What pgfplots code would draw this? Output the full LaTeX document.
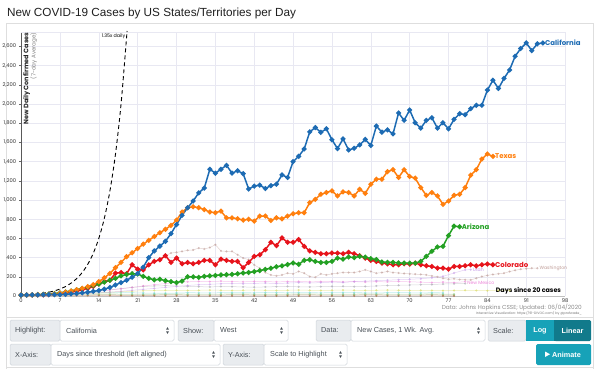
\documentclass[border=0pt]{standalone}
\usepackage{pgfplots}
\pgfplotsset{compat=1.18}
\usepackage{fontspec}
\setmainfont{Liberation Sans}
\newfontfamily\pop{Poppins}
\definecolor{cacol}{RGB}{29,107,179}
\definecolor{txcol}{RGB}{255,127,14}
\definecolor{azcol}{RGB}{35,160,35}
\definecolor{cocol}{RGB}{230,19,27}
\definecolor{wacol}{RGB}{190,155,150}
\definecolor{utcol}{RGB}{195,150,230}
\definecolor{nmcol}{RGB}{235,130,215}
\definecolor{nvcol}{RGB}{165,165,175}
\definecolor{orcol}{RGB}{215,215,90}
\definecolor{idcol}{RGB}{110,215,215}
\definecolor{mtcol}{RGB}{140,210,140}
\definecolor{wycol}{RGB}{150,140,70}
\definecolor{akcol}{RGB}{170,90,60}
\definecolor{gridcol}{RGB}{232,232,242}
\definecolor{framecol}{RGB}{222,222,222}
\definecolor{uigray}{RGB}{233,236,239}
\definecolor{uiborder}{RGB}{206,212,218}
\definecolor{uitext}{RGB}{73,80,87}
\definecolor{teal1}{RGB}{23,162,184}
\definecolor{teal2}{RGB}{17,122,139}
\newcommand{\uifont}{\fontsize{7.3}{8}\selectfont}
\newcommand{\lbox}[5]{% x1 x2 y1 y2 text
  \filldraw[fill=uigray, draw=uiborder, line width=0.5bp, rounded corners=1.5bp] (#1,#3) rectangle (#2,#4);
  \node[anchor=west, inner sep=0, text=uitext, font=\uifont] at ({#1+5},{(#3+#4)/2}) {#5};}
\newcommand{\dbox}[5]{%
  \filldraw[fill=white, draw=uiborder, line width=0.5bp, rounded corners=1.5bp] (#1,#3) rectangle (#2,#4);
  \node[anchor=west, inner sep=0, text=uitext, font=\uifont] at ({#1+6},{(#3+#4)/2}) {#5};
  \fill[uitext] ({#2-8},{(#3+#4)/2+0.8}) -- ({#2-5},{(#3+#4)/2+0.8}) -- ({#2-6.5},{(#3+#4)/2+3.3}) -- cycle;
  \fill[uitext] ({#2-8},{(#3+#4)/2-0.8}) -- ({#2-5},{(#3+#4)/2-0.8}) -- ({#2-6.5},{(#3+#4)/2-3.3}) -- cycle;}
\begin{document}
\begin{tikzpicture}[x=1bp,y=1bp]
\useasboundingbox (0,0) rectangle (600,369);
\begin{scope}
\clip (0,0) rectangle (594,369);
% title
\node[anchor=base west, inner sep=0, font=\fontsize{11.8}{13}\selectfont, text=black!88] at (7,352.5) {New COVID-19 Cases by US States/Territories per Day};
% frame
\draw[framecol, line width=0.8bp] (6,0) -- (6,346) -- (593,346) -- (593,0);
\draw[framecol, line width=0.8bp] (6,52) -- (593,52);
\draw[framecol, line width=0.8bp] (6,1.5) -- (593,1.5);

\begin{axis}[at={(38,76)}, anchor=south west, scale only axis,
  width=544bp, height=264bp,
  xmin=0, xmax=98, ymin=0, ymax=2750, clip=false,
  axis x line=bottom, axis y line=left,
  axis line style={-},
  x axis line style={draw=black!25},
  y axis line style={draw=black!65, line width=0.6bp},
  xtick={0,7,...,98}, ytick={0,200,...,2600},
  grid=major, major grid style={gridcol, line width=0.6bp},
  xtick style={draw=none},
  ytick style={draw=black!60, line width=0.4bp},
  tick align=outside, major tick length=2bp,
  /pgf/number format/.cd, assume math mode=true, 1000 sep={,},
  /pgfplots/.cd,
  ticklabel style={font=\pop\fontsize{5.2}{6}\selectfont, text=black!80},
  xticklabel style={yshift=3bp},
  yticklabel style={xshift=0.5bp},
  faint/.style={line width=0.5bp, mark=*, mark size=0.9bp, opacity=0.45},
  main/.style={line width=1.5bp, mark=*, mark size=1.7bp},
]
% top border
\draw[gridcol, line width=0.6bp] (rel axis cs:0,1) -- (rel axis cs:1,1);
% faint series
\addplot[faint, color=akcol] coordinates {(0,3)(2,3)(4,4)(6,4)(8,5)(10,5)(12,6)(14,6)(16,5)(18,5)(20,4)(22,4)(24,3)(26,3)(28,3)(30,2)(32,2)(34,2)(36,2)(38,2)(40,2)(42,2)(44,2)(46,2)(48,2)(50,2)(52,2)(54,2)(56,2)(58,2)(60,2)(62,2)(64,2)(66,2)(68,2)(70,2)(72,2)(74,2)(76,2)(78,2)};
\addplot[faint, color=wycol] coordinates {(0,6)(2,7)(4,8)(6,9)(8,10)(10,12)(12,13)(14,14)(16,14)(18,13)(20,12)(22,12)(24,13)(26,14)(28,14)(30,13)(32,12)(34,12)(36,13)(38,14)(40,14)(42,13)(44,12)(46,12)(48,13)(50,14)(52,14)(54,13)(56,12)(58,12)(60,13)(62,14)(64,14)(66,13)(68,12)(70,12)(72,13)(74,14)(76,13)(78,12)};
\addplot[faint, color=mtcol] coordinates {(0,8)(2,10)(4,12)(6,14)(8,16)(10,18)(12,20)(14,22)(16,22)(18,21)(20,20)(22,20)(24,21)(26,22)(28,22)(30,21)(32,20)(34,20)(36,21)(38,22)(40,22)(42,21)(44,20)(46,20)(48,21)(50,22)(52,22)(54,21)(56,20)(58,20)(60,21)(62,22)(64,22)(66,21)(68,20)(70,20)(72,21)(74,22)(76,21)(78,20)};
\addplot[faint, color=idcol] coordinates {(0,8)(2,10)(4,14)(6,18)(8,24)(10,30)(12,35)(14,38)(16,40)(18,38)(20,35)(22,32)(24,30)(26,30)(28,32)(30,35)(32,34)(34,33)(36,35)(38,36)(40,35)(42,34)(44,36)(46,35)(48,34)(50,36)(52,35)(54,34)(56,35)(58,36)(60,35)(62,34)(64,33)(66,35)(68,36)(70,34)(72,33)(74,35)(76,34)};
\addplot[faint, color=orcol] coordinates {(0,8)(2,9)(4,10)(6,12)(8,15)(10,20)(12,25)(14,32)(16,40)(18,45)(20,50)(22,55)(24,58)(26,60)(28,60)(30,58)(32,60)(34,62)(36,60)(38,58)(40,60)(42,62)(44,60)(46,58)(48,60)(50,62)(52,60)(54,58)(56,60)(58,62)(60,60)(62,58)(64,60)(66,62)(68,60)(70,58)(72,60)(74,58)(76,56)(78,58)(80,60)(82,58)(84,56)(86,58)(88,57)};
\addplot[faint, color=nvcol] coordinates {(0,8)(2,10)(4,13)(6,17)(8,22)(10,30)(12,40)(14,52)(16,65)(18,78)(20,90)(22,100)(24,105)(26,108)(28,105)(30,100)(32,98)(34,95)(36,100)(38,98)(40,95)(42,92)(44,95)(46,98)(48,100)(50,96)(52,95)(54,98)(56,100)(58,102)(60,98)(62,100)(64,105)(66,110)(68,112)(70,115)(72,118)(74,120)(76,125)(78,128)(80,130)};
\addplot[faint, color=nmcol] coordinates {(0,8)(2,10)(4,12)(6,15)(8,20)(10,28)(12,38)(14,50)(16,62)(18,75)(20,90)(22,105)(24,118)(26,130)(28,140)(30,148)(32,152)(34,150)(36,155)(38,150)(40,148)(42,152)(44,150)(46,148)(48,150)(50,152)(52,148)(54,150)(56,152)(58,148)(60,150)(62,146)(64,150)(66,148)(68,152)(70,148)(72,145)(74,140)(76,145)(78,140)(80,150)};
\addplot[faint, color=utcol] coordinates {(0,8)(2,9)(4,11)(6,13)(8,16)(10,20)(12,26)(14,33)(16,40)(18,50)(20,60)(22,70)(24,80)(26,90)(28,100)(30,110)(32,118)(34,122)(36,128)(38,130)(40,128)(42,132)(44,135)(46,130)(48,135)(50,140)(52,136)(54,140)(56,145)(58,142)(60,150)(62,155)(64,160)(66,165)(68,170)(70,175)(72,180)(74,190)(76,205)(78,240)(80,273)(81,275)};
\addplot[faint, color=wacol] coordinates {(0,10)(1,12)(2,15)(3,18)(4,22)(5,28)(6,35)(7,42)(8,50)(9,60)(10,70)(11,82)(12,95)(13,110)(14,125)(15,140)(16,160)(17,180)(18,200)(19,225)(20,250)(21,275)(22,300)(23,330)(24,360)(25,390)(26,420)(27,448)(28,455)(29,465)(30,476)(31,480)(32,500)(33,490)(34,505)(35,535)(36,470)(37,465)(38,466)(39,430)(40,396)(41,380)(42,325)(43,290)(44,245)(45,220)(46,210)(47,220)(48,238)(49,231)(50,256)(51,238)(52,203)(53,196)(54,231)(55,220)(56,231)(57,238)(58,245)(59,245)(60,245)(61,256)(62,273)(63,256)(64,238)(65,245)(66,256)(67,245)(68,240)(69,235)(70,231)(71,228)(72,225)(73,220)(74,210)(75,200)(76,185)(77,175)(78,180)(79,172)(80,170)(81,168)(82,185)(83,203)(84,215)(85,225)(86,232)(87,238)(88,255)(89,268)(90,280)(91,285)(92,290)(93,290)};
% exponential guide
\addplot[black, line width=0.9bp, dash pattern=on 4bp off 3bp, smooth, mark=none] coordinates {(0,9)(1,12)(2,16)(3,22)(4,30)(5,40)(6,54)(7,73)(8,99)(9,134)(10,181)(11,244)(12,330)(13,445)(14,600)(15,811)(16,1094)(17,1477)(18,1995)(19,2693)(19.07,2750)};
% main series
\addplot[main, color=cocol] coordinates {(0,10)(1,10)(2,11)(3,12)(4,13)(5,15)(6,18)(7,24)(8,32)(9,42)(10,52)(11,65)(12,80)(13,100)(14,125)(15,150)(16,165)(17,238)(18,245)(19,232)(20,325)(21,280)(22,273)(23,325)(24,361)(25,378)(26,420)(27,350)(28,396)(29,336)(30,350)(31,336)(32,350)(33,371)(34,371)(35,325)(36,385)(37,371)(38,361)(39,361)(40,295)(41,350)(42,413)(43,430)(44,483)(45,560)(46,525)(47,605)(48,560)(49,560)(50,588)(51,518)(52,470)(53,455)(54,441)(55,441)(56,448)(57,448)(58,441)(59,455)(60,441)(61,420)(62,396)(63,371)(64,361)(65,343)(66,336)(67,326)(68,326)(69,336)(70,333)(71,343)(72,326)(73,315)(74,308)(75,291)(76,291)(77,280)(78,308)(79,308)(80,315)(81,326)(82,315)(83,326)(84,333)(85,326)};
\addplot[main, color=azcol] coordinates {(0,10)(1,11)(2,12)(3,14)(4,17)(5,20)(6,25)(7,32)(8,42)(9,52)(10,65)(11,78)(12,92)(13,108)(14,125)(15,145)(16,165)(17,185)(18,210)(19,225)(20,232)(21,230)(22,205)(23,185)(24,168)(25,175)(26,160)(27,150)(28,140)(29,155)(30,200)(31,200)(32,195)(33,205)(34,210)(35,215)(36,220)(37,222)(38,225)(39,232)(40,240)(41,245)(42,255)(43,265)(44,278)(45,290)(46,305)(47,315)(48,328)(49,345)(50,330)(51,372)(52,378)(53,361)(54,350)(55,350)(56,361)(57,396)(58,385)(59,406)(60,400)(61,413)(62,406)(63,390)(64,380)(65,355)(66,350)(67,350)(68,345)(69,343)(70,343)(71,343)(72,361)(73,413)(74,466)(75,511)(76,518)(77,630)(78,728)(79,722)};
\addplot[main, color=txcol] coordinates {(0,10)(1,11)(2,12)(3,14)(4,16)(5,18)(6,22)(7,30)(8,40)(9,52)(10,65)(11,80)(12,98)(13,120)(14,150)(15,190)(16,235)(17,295)(18,350)(19,410)(20,450)(21,495)(22,540)(23,580)(24,620)(25,660)(26,695)(27,735)(28,790)(29,875)(30,920)(31,930)(32,920)(33,900)(34,875)(35,868)(36,885)(37,815)(38,815)(39,805)(40,791)(41,800)(42,781)(43,833)(44,833)(45,787)(46,815)(47,805)(48,833)(49,857)(50,868)(51,868)(52,973)(53,1007)(54,1060)(55,1078)(56,1095)(57,1043)(58,1085)(59,1078)(60,1043)(61,1112)(62,1070)(63,1165)(64,1217)(65,1217)(66,1295)(67,1316)(68,1235)(69,1316)(70,1245)(71,1228)(72,1130)(73,1049)(74,1078)(75,1043)(76,955)(77,990)(78,1049)(79,1060)(80,1130)(81,1259)(82,1316)(83,1427)(84,1480)(85,1455)};
\addplot[main, color=cacol] coordinates {(0,10)(1,11)(2,12)(3,13)(4,14)(5,15)(6,15)(7,15)(8,18)(9,22)(10,27)(11,33)(12,40)(13,48)(14,58)(15,72)(16,90)(17,115)(18,140)(19,165)(20,195)(21,235)(22,300)(23,400)(24,470)(25,520)(26,570)(27,650)(28,745)(29,840)(30,920)(31,990)(32,1075)(33,1125)(34,1320)(35,1280)(36,1320)(37,1362)(38,1280)(39,1305)(40,1275)(41,1115)(42,1145)(43,1155)(44,1120)(45,1150)(46,1165)(47,1262)(48,1235)(49,1400)(50,1455)(51,1532)(52,1710)(53,1755)(54,1705)(55,1742)(56,1628)(57,1536)(58,1637)(59,1522)(60,1539)(61,1574)(62,1631)(63,1568)(64,1770)(65,1707)(66,1731)(67,1689)(68,1907)(69,1830)(70,1938)(71,1805)(72,1749)(73,1830)(74,1857)(75,1749)(76,1805)(77,1742)(78,1840)(79,1900)(80,1889)(81,1952)(82,1987)(83,1987)(84,2145)(85,2248)(86,2162)(87,2267)(88,2355)(89,2498)(90,2578)(91,2636)(92,2557)(93,2627)(94,2636)};
% series labels
\node[anchor=west, inner sep=0, xshift=2bp, font=\pop\bfseries\fontsize{7}{8}\selectfont, text=cacol] at (axis cs:94,2636) {California};
\node[anchor=west, inner sep=0, xshift=2bp, font=\pop\bfseries\fontsize{7}{8}\selectfont, text=txcol] at (axis cs:85,1455) {Texas};
\node[anchor=west, inner sep=0, xshift=2bp, font=\pop\bfseries\fontsize{7}{8}\selectfont, text=azcol] at (axis cs:79,722) {Arizona};
\node[anchor=west, inner sep=0, xshift=2bp, font=\pop\bfseries\fontsize{7}{8}\selectfont, text=cocol] at (axis cs:85,326) {Colorado};
\node[anchor=west, inner sep=0, xshift=2bp, font=\pop\fontsize{4.6}{5}\selectfont, text=wacol] at (axis cs:93,290) {Washington};
\node[anchor=west, inner sep=0, xshift=2bp, font=\pop\fontsize{4.6}{5}\selectfont, text=utcol] at (axis cs:81,275) {Utah};
\node[anchor=west, inner sep=0, xshift=2bp, font=\pop\fontsize{4.6}{5}\selectfont, text=nmcol] at (axis cs:80,140) {New Mexico};
% annotations
\node[anchor=base east, inner sep=0, font=\pop\fontsize{4.8}{5}\selectfont] at (axis cs:18.8,2690) {1.35x daily};
\node[anchor=base east, inner sep=0, font=\pop\bfseries\fontsize{6.4}{7}\selectfont] at (axis cs:97.3,35) {Days since 20 cases};
\node[rotate=90, anchor=east, inner sep=0, font=\pop\bfseries\fontsize{6.5}{7}\selectfont, text=black!85] at (axis cs:1,2745) {New Daily Confirmed Cases};
\node[rotate=90, anchor=east, inner sep=0, font=\pop\fontsize{5.6}{6}\selectfont, text=black!50] at (axis cs:2.3,2745) {(7-day Average)};
\end{axis}

% source text
\node[anchor=east, inner sep=0, font=\pop\fontsize{5.8}{6}\selectfont, text=black!45] at (582,61.5) {Data: Johns Hopkins CSSE; Updated: 06/04/2020};
\node[anchor=east, inner sep=0, font=\pop\fontsize{3.3}{4}\selectfont, text=black!55] at (582,55.5) {Interactive Visualization: https://91-DIVOC.com/ by @profwade\_};

% controls row 1
\lbox{10}{60}{28}{49}{Highlight:}
\dbox{60}{174}{28}{49}{California}
\lbox{178}{214}{28}{49}{Show:}
\dbox{214}{288}{28}{49}{West}
\lbox{316}{351}{28}{49}{Data:}
\dbox{351}{485}{28}{49}{New Cases, 1 Wk. Avg.}
\lbox{488}{526}{28}{49}{Scale:}
\fill[teal1] (526,28) rectangle (554,49);
\fill[teal2, rounded corners=1.5bp] (554,28) rectangle (591,49);
\fill[teal2] (554,28) rectangle (558,49);
\node[text=white, font=\uifont\bfseries, inner sep=0] at (540,38.5) {Log};
\node[text=white, font=\uifont\bfseries, inner sep=0] at (572.5,38.5) {Linear};
% controls row 2
\lbox{10}{51}{4}{25}{X-Axis:}
\dbox{51}{220}{4}{25}{Days since threshold (left aligned)}
\lbox{223}{264}{4}{25}{Y-Axis:}
\dbox{264}{347}{4}{25}{Scale to Highlight}
\fill[teal1, rounded corners=1.5bp] (536,4) rectangle (591,25);
\fill[white] (545,12) -- (545,17.5) -- (550,14.75) -- cycle;
\node[anchor=west, text=white, font=\uifont\bfseries, inner sep=0] at (552,14.5) {Animate};
\end{scope}
\end{tikzpicture}
\end{document}
